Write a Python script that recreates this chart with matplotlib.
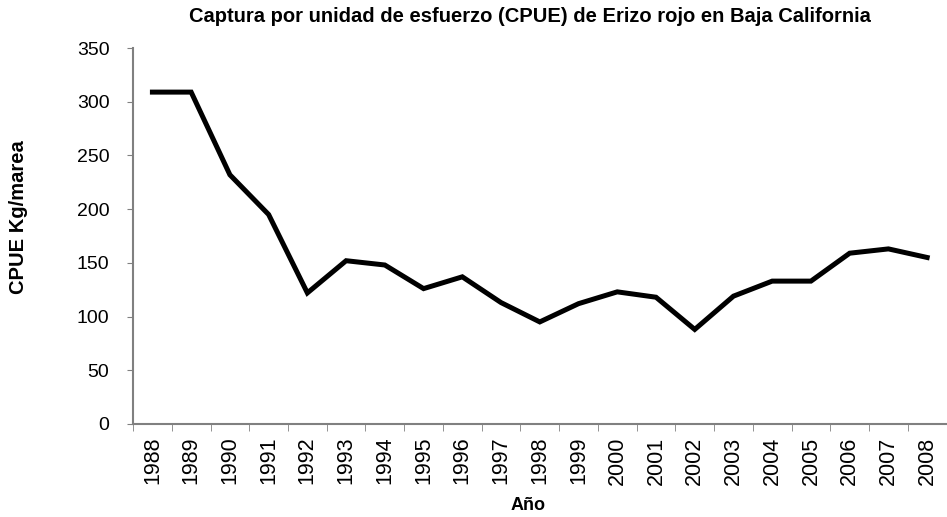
import numpy as np
import matplotlib
matplotlib.use("Agg")
import matplotlib.pyplot as plt

plt.rcParams["font.family"] = ["Liberation Sans", "DejaVu Sans"]

# datos
anios = [str(a) for a in range(1988, 2009)]
cpue = [309, 309, 232, 195, 122, 152, 148, 126, 137, 113, 95,
        112, 123, 118, 88, 119, 133, 133, 159, 163, 155]

fig = plt.figure(figsize=(9.47, 5.17), dpi=100)
ax = fig.add_axes([0.1405, 0.180, 0.859, 0.727])

x = np.arange(len(anios))
ax.plot(x, cpue, color="black", linewidth=3.6, solid_joinstyle="miter")

ax.set_xlim(-0.5, len(anios) - 0.5)
ax.set_ylim(0, 350)
ax.set_yticks(range(0, 351, 50))
ax.set_xticks(x)
ax.set_xticklabels(anios, rotation=90, fontsize=15.5)
ax.set_xticks(np.arange(-0.5, len(anios), 1), minor=True)
ax.tick_params(axis="x", which="major", length=0, pad=9)
ax.tick_params(axis="x", which="minor", length=5, color="#808080", direction="out")
ax.tick_params(axis="y", length=4, color="#808080", direction="out", labelsize=14, pad=13)

for s in ["top", "right"]:
    ax.spines[s].set_visible(False)
for s in ["left", "bottom"]:
    ax.spines[s].set_color("#808080")
    ax.spines[s].set_linewidth(1.5)

fig.text(19 / 947, 1 - 217 / 517, "CPUE Kg/marea", rotation=90,
         ha="center", va="center", fontsize=14.5, fontweight="bold")
fig.text(528 / 947, 1 - 505 / 517, "Año", ha="center", va="center",
         fontsize=13, fontweight="bold")
fig.text(529.5 / 947, 1 - 17 / 517,
         "Captura por unidad de esfuerzo (CPUE) de Erizo rojo en Baja California",
         ha="center", va="center", fontsize=14.5, fontweight="bold")

fig.savefig("out.png", dpi=100)
